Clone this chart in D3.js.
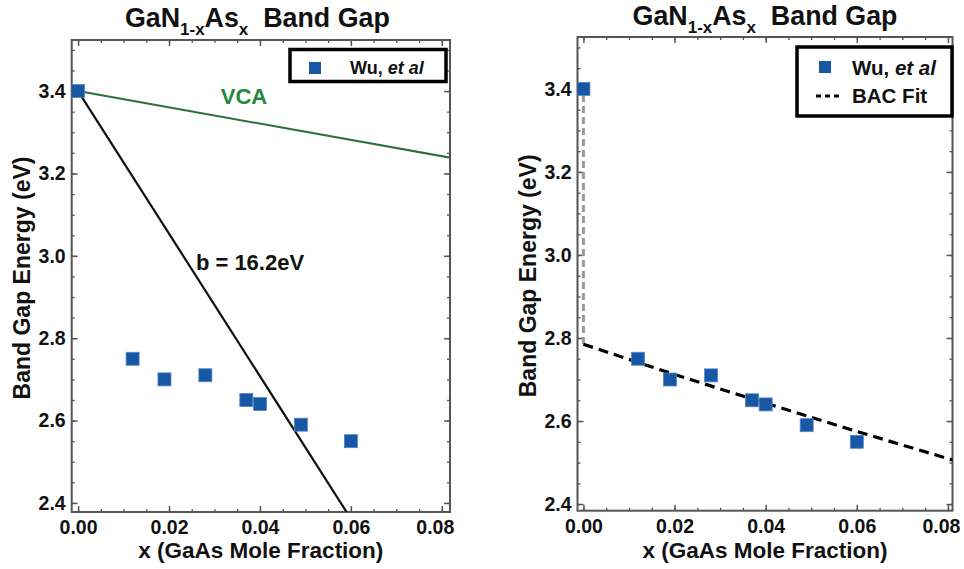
<!DOCTYPE html>
<html>
<head>
<meta charset="utf-8">
<script src="https://cdn.jsdelivr.net/npm/d3@7"></script>
<style>
  html, body { margin: 0; padding: 0; background: #fff; }
  svg { display: block; font-family: "Liberation Sans", Arial, Helvetica, sans-serif; }
</style>
</head>
<body>
<div id="chart"></div>
<script>
// Wu et al measured band gaps
const wuX = [0, 0.012, 0.019, 0.028, 0.037, 0.040, 0.049, 0.060];
const wuE = [3.40, 2.75, 2.70, 2.71, 2.65, 2.64, 2.59, 2.55];
// virtual crystal approximation (left panel)
const vcaX = [0, 0.082];
const vcaE = [3.40, 3.238];
// bowing line b = 16.2 eV (left panel)
const bowX = [0, 0.062];
const bowE = [3.40, 2.327];
// band anticrossing fit (right panel)
const bacX = [0, 0.02, 0.04, 0.06, 0.082];
const bacE = [2.785, 2.712, 2.643, 2.575, 2.503];
const bacJumpX = [0, 0];
const bacJumpE = [3.385, 2.785];

const xTicks = [0, 0.02, 0.04, 0.06, 0.08];
const yTicks = [2.4, 2.6, 2.8, 3.0, 3.2, 3.4];
const xMinor = d3.range(0, 0.0826, 0.005);
const yMinor = d3.range(2.4, 3.51, 0.05);

const W = 964, H = 569;
const BLUE = '#1757a6';
const FRAME = '#555';

const svg = d3.select('#chart').append('svg')
  .attr('width', W)
  .attr('height', H);

const pts = (xs, ys) => xs.map((x, i) => ({ x, y: ys[i] }));

function panel(id, box, xDom, yDom, titleDx, titleY) {
  const x = d3.scaleLinear().domain(xDom).range([box.left, box.right]);
  const y = d3.scaleLinear().domain(yDom).range([box.bottom, box.top]);
  const g = svg.append('g');

  svg.append('clipPath').attr('id', id)
    .append('rect')
    .attr('x', box.left).attr('y', box.top)
    .attr('width', box.right - box.left).attr('height', box.bottom - box.top);

  // minor ticks on all four sides
  const minors = [
    [d3.axisBottom(x).tickValues(xMinor), `translate(0,${box.bottom})`],
    [d3.axisTop(x).tickValues(xMinor), `translate(0,${box.top})`],
    [d3.axisLeft(y).tickValues(yMinor), `translate(${box.left},0)`],
    [d3.axisRight(y).tickValues(yMinor), `translate(${box.right},0)`]
  ];
  for (const [ax, tr] of minors) {
    g.append('g').attr('transform', tr)
      .call(ax.tickSize(-3).tickFormat(''))
      .call((s) => s.select('.domain').remove())
      .call((s) => s.selectAll('line').attr('stroke', FRAME).attr('stroke-width', 1.3));
  }

  const majors = [
    [d3.axisBottom(x).tickValues(xTicks).tickFormat(d3.format('.2f')), `translate(0,${box.bottom})`, 'x'],
    [d3.axisTop(x).tickValues(xTicks).tickFormat(''), `translate(0,${box.top})`],
    [d3.axisLeft(y).tickValues(yTicks).tickFormat(d3.format('.1f')), `translate(${box.left},0)`],
    [d3.axisRight(y).tickValues(yTicks).tickFormat(''), `translate(${box.right},0)`]
  ];
  for (const [ax, tr, kind] of majors) {
    const a = g.append('g').attr('transform', tr)
      .call(ax.tickSize(-6).tickPadding(kind === 'x' ? 8 : 6))
      .call((s) => s.select('.domain').remove())
      .call((s) => s.selectAll('line').attr('stroke', FRAME).attr('stroke-width', 1.5))
      .call((s) => s.selectAll('text')
        .attr('font-size', '19.5px')
        .attr('font-weight', 'bold')
        .attr('fill', '#111')
        .attr('font-family', '"Liberation Sans", Arial, sans-serif'));
    // last x label sits a little inside the frame, as in the original
    if (kind === 'x') {
      a.selectAll('.tick').filter((d) => d === 0.08).select('text').attr('dx', -7);
    }
  }

  g.append('rect')
    .attr('x', box.left).attr('y', box.top)
    .attr('width', box.right - box.left).attr('height', box.bottom - box.top)
    .attr('fill', 'none')
    .attr('stroke', FRAME)
    .attr('stroke-width', 2);

  // title with subscripts
  const t = svg.append('text')
    .attr('x', (box.left + box.right) / 2 + titleDx)
    .attr('y', titleY)
    .attr('text-anchor', 'middle')
    .attr('font-size', '26.8px')
    .attr('font-weight', 'bold')
    .attr('fill', '#111');
  t.append('tspan').text('GaN');
  t.append('tspan').attr('font-size', '17px').attr('dy', 8).text('1-x');
  t.append('tspan').attr('dy', -8).text('As');
  t.append('tspan').attr('font-size', '17px').attr('dy', 8).text('x');
  t.append('tspan').attr('dy', -8).text('\u00a0\u00a0Band Gap');

  svg.append('text')
    .attr('x', (box.left + box.right) / 2)
    .attr('y', 558)
    .attr('text-anchor', 'middle')
    .attr('font-size', '22.5px')
    .attr('font-weight', 'bold')
    .attr('fill', '#111')
    .text('x (GaAs Mole Fraction)');

  svg.append('text')
    .attr('transform', `translate(${box.left - 42},${(box.top + box.bottom) / 2 + 2}) rotate(-90)`)
    .attr('text-anchor', 'middle')
    .attr('font-size', '23px')
    .attr('font-weight', 'bold')
    .attr('fill', '#111')
    .text('Band Gap Energy (eV)');

  const plot = svg.append('g').attr('clip-path', `url(#${id})`);
  return { x, y, plot };
}

function squares(p, data) {
  p.plot.selectAll(null)
    .data(data)
    .join('rect')
    .attr('x', (d) => p.x(d.x) - 6.5)
    .attr('y', (d) => p.y(d.y) - 6.5)
    .attr('width', 13)
    .attr('height', 13)
    .attr('fill', BLUE)
    .attr('stroke', '#4f86c9')
    .attr('stroke-width', 0.8);
}

function legendBox(x0, y0, w, h) {
  svg.append('rect')
    .attr('x', x0).attr('y', y0)
    .attr('width', w).attr('height', h)
    .attr('fill', '#fff')
    .attr('stroke', '#000')
    .attr('stroke-width', 3.5);
}

function wuLabel(xStart, yBase, size) {
  const t = svg.append('text')
    .attr('x', xStart).attr('y', yBase)
    .attr('font-size', size)
    .attr('font-weight', 'bold')
    .attr('fill', '#111');
  t.append('tspan').text('Wu,\u00a0');
  t.append('tspan').attr('font-style', 'italic').text('et al');
}

// ---- left panel ----
const L = panel('clipL', { left: 71.7, right: 450, top: 40, bottom: 512 },
  [-0.0014, 0.0818], [2.378, 3.524], -3.5, 27);
const line = (p) => d3.line().x((d) => p.x(d.x)).y((d) => p.y(d.y));

L.plot.append('path')
  .datum(pts(vcaX, vcaE))
  .attr('d', line(L))
  .attr('fill', 'none')
  .attr('stroke', '#2d6f3c')
  .attr('stroke-width', 2);

L.plot.append('path')
  .datum(pts(bowX, bowE))
  .attr('d', line(L))
  .attr('fill', 'none')
  .attr('stroke', '#111')
  .attr('stroke-width', 2.2);

squares(L, pts(wuX, wuE));

svg.append('text')
  .attr('x', 244).attr('y', 104)
  .attr('text-anchor', 'middle')
  .attr('font-size', '22px')
  .attr('font-weight', 'bold')
  .attr('fill', '#23883a')
  .text('VCA');

svg.append('text')
  .attr('x', 250).attr('y', 270)
  .attr('text-anchor', 'middle')
  .attr('font-size', '22px')
  .attr('font-weight', 'bold')
  .attr('fill', '#111')
  .text('b = 16.2eV');

legendBox(290, 49.5, 156, 32);
svg.append('rect')
  .attr('x', 309).attr('y', 62).attr('width', 12).attr('height', 12)
  .attr('fill', BLUE);
wuLabel(350, 74, '18px');

// ---- right panel ----
const R = panel('clipR', { left: 577.5, right: 952.5, top: 37, bottom: 510.7 },
  [-0.0013, 0.081], [2.384, 3.525], 0, 25);

R.plot.append('path')
  .datum(pts(bacJumpX, bacJumpE))
  .attr('d', line(R))
  .attr('fill', 'none')
  .attr('stroke', '#999')
  .attr('stroke-width', 3)
  .attr('stroke-dasharray', '7,4');

R.plot.append('path')
  .datum(pts(bacX, bacE))
  .attr('d', line(R))
  .attr('fill', 'none')
  .attr('stroke', '#000')
  .attr('stroke-width', 3.2)
  .attr('stroke-dasharray', '10,6');

squares(R, pts(wuX, wuE));

legendBox(797, 47, 155, 69);
svg.append('rect')
  .attr('x', 819).attr('y', 61).attr('width', 12).attr('height', 12)
  .attr('fill', BLUE);
wuLabel(852, 75, '20.5px');
svg.append('line')
  .attr('x1', 816).attr('x2', 841)
  .attr('y1', 96).attr('y2', 96)
  .attr('stroke', '#000')
  .attr('stroke-width', 3)
  .attr('stroke-dasharray', '5,4');
svg.append('text')
  .attr('x', 852).attr('y', 103)
  .attr('font-size', '20.5px')
  .attr('font-weight', 'bold')
  .attr('fill', '#111')
  .text('BAC Fit');
</script>
</body>
</html>
